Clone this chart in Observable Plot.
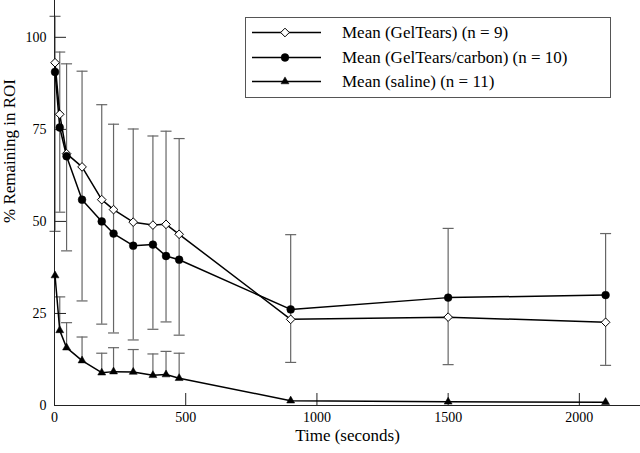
<!DOCTYPE html>
<html>
<head>
<meta charset="utf-8">
<script src="https://cdn.jsdelivr.net/npm/d3@7"></script>
<script src="https://cdn.jsdelivr.net/npm/@observablehq/plot@0.6"></script>
<style>
  body { margin: 0; background: #fff; }
  #wrap { position: relative; width: 640px; height: 453px; }
  #legend { position: absolute; left: 245px; top: 17px; }
  #wrap svg, #wrap svg text { font-family: "Liberation Serif", "DejaVu Serif", serif !important; }
</style>
</head>
<body>
<div id="wrap"></div>
<script>
// ---- data ----
const times = [2, 20, 46, 105, 180, 225, 300, 375, 425, 475, 900, 1500, 2100];
const gelTears = [93.1, 79.1, 68.4, 64.8, 55.9, 53.2, 49.8, 49.0, 49.2, 46.5, 23.4, 24.0, 22.6];
const gelCarbon = [90.6, 75.5, 67.7, 55.9, 50.0, 46.7, 43.4, 43.7, 40.6, 39.6, 26.1, 29.3, 30.0];
const saline = [35.3, 20.4, 15.7, 12.2, 8.9, 9.2, 9.1, 8.2, 8.4, 7.4, 1.3, 1.0, 0.9];
// error bar limits for the two gel series (upper / lower caps)
const gelBarHigh = [105.7, 96.0, 92.8, 90.8, 81.7, 76.4, 75.1, 73.2, 74.5, 72.5, 46.4, 48.1, 46.7];
const gelBarLow = [47.3, 52.5, 42.0, 28.4, 22.1, 19.7, 17.8, 20.7, 22.7, 19.1, 11.7, 11.1, 10.9];
// saline upper error caps
const salineBarHigh = [null, 29.5, 22.5, 18.6, 14.2, 15.7, 15.2, 14.0, 14.7, 14.2, null, null, null];
const xTicks = [0, 500, 1000, 1500, 2000];
const yTicks = [0, 25, 50, 75, 100];
const seriesNames = ["Mean (GelTears) (n = 9)", "Mean (GelTears/carbon) (n = 10)", "Mean (saline) (n = 11)"];
const xLabel = "Time (seconds)";
const yLabel = "% Remaining in ROI";

// ---- build tables ----
const rows = (vals) => times.map((t, i) => ({t, v: vals[i]}));
const gelRows = rows(gelTears);
const carbonRows = rows(gelCarbon);
const salineRows = rows(saline);
const gelBars = times.map((t, i) => ({t, lo: gelBarLow[i], hi: gelBarHigh[i]}));
const salineBars = times.map((t, i) => ({t, lo: saline[i], hi: salineBarHigh[i]})).filter(d => d.hi != null);

const cap = {draw(ctx) { ctx.moveTo(-5.5, 0); ctx.lineTo(5.5, 0); }};
const barColor = "#666";
const serif = "'Liberation Serif', 'DejaVu Serif', serif";

const chart = Plot.plot({
  width: 640,
  height: 453,
  marginLeft: 54,
  marginRight: 0,
  marginTop: 0,
  marginBottom: 48,
  style: {fontFamily: serif, fontSize: "14px", color: "#000", background: "#fff"},
  x: {domain: [0, 2233]},
  y: {domain: [0, 110]},
  marks: [
    // error bars
    Plot.ruleX(gelBars, {x: "t", y1: "lo", y2: "hi", stroke: barColor, strokeWidth: 1.2}),
    Plot.dot(gelBars, {x: "t", y: "hi", symbol: cap, r: 4, fill: "none", stroke: barColor, strokeWidth: 1.2}),
    Plot.dot(gelBars, {x: "t", y: "lo", symbol: cap, r: 4, fill: "none", stroke: barColor, strokeWidth: 1.2}),
    Plot.ruleX(salineBars, {x: "t", y1: "lo", y2: "hi", stroke: barColor, strokeWidth: 1.2}),
    Plot.dot(salineBars, {x: "t", y: "hi", symbol: cap, r: 4, fill: "none", stroke: barColor, strokeWidth: 1.2}),
    // axes lines
    Plot.ruleY([0], {stroke: "#222"}),
    Plot.ruleX([0], {stroke: "#222"}),
    // inward ticks (12px long)
    Plot.tickX(xTicks, {x: d => d, insetTop: 393, stroke: "#222", strokeWidth: 1}),
    Plot.tickY(yTicks, {y: d => d, insetRight: 574, stroke: "#222", strokeWidth: 1}),
    // tick labels
    Plot.axisX({ticks: xTicks, tickSize: 0, tickPadding: 7, tickFormat: d => String(d), label: null, fontSize: 14}),
    Plot.axisY({ticks: yTicks, tickSize: 0, tickPadding: 8, tickFormat: d => String(d), label: null, fontSize: 14}),
    // series lines
    Plot.line(gelRows, {x: "t", y: "v", stroke: "#000", strokeWidth: 1.5}),
    Plot.line(carbonRows, {x: "t", y: "v", stroke: "#000", strokeWidth: 1.5}),
    Plot.line(salineRows, {x: "t", y: "v", stroke: "#000", strokeWidth: 1.5}),
    // markers
    Plot.dot(gelRows, {x: "t", y: "v", symbol: "diamond2", r: 3.9, fill: "#fff", stroke: "#000", strokeWidth: 1}),
    Plot.dot(carbonRows, {x: "t", y: "v", symbol: "circle", r: 3.9, fill: "#000", stroke: "#000", strokeWidth: 0.5}),
    Plot.dot(salineRows, {x: "t", y: "v", symbol: "triangle2", r: 3.8, fill: "#000", stroke: "#000", strokeWidth: 0.5}),
    // axis titles
    Plot.text([xLabel], {text: d => d, frameAnchor: "bottom", dy: 35, fontSize: 17, fill: "#000"}),
    Plot.text([yLabel], {text: d => d, frameAnchor: "left", dx: -45, dy: 20, rotate: -90, fontSize: 17, fill: "#000"})
  ]
});
document.getElementById("wrap").appendChild(chart);

// ---- legend (boxed, inside plot area) ----
const ns = "http://www.w3.org/2000/svg";
const leg = document.createElementNS(ns, "svg");
leg.setAttribute("id", "legend");
leg.setAttribute("width", 366);
leg.setAttribute("height", 81);
const el = (name, attrs) => { const e = document.createElementNS(ns, name); for (const k in attrs) e.setAttribute(k, attrs[k]); leg.appendChild(e); return e; };
el("rect", {x: 0.5, y: 0.5, width: 365, height: 80, fill: "#fff", stroke: "#555", "stroke-width": 1});
const rowY = [15.5, 40.5, 64.5];
const syms = [d3.symbolDiamond2, d3.symbolCircle, d3.symbolTriangle2];
const rs = [3.9, 3.9, 3.8];
seriesNames.forEach((name, i) => {
  el("line", {x1: 7, x2: 76, y1: rowY[i], y2: rowY[i], stroke: "#000", "stroke-width": 1.5});
  el("path", {d: d3.symbol(syms[i], Math.PI * rs[i] * rs[i])(), transform: `translate(40,${rowY[i]})`,
    fill: i === 0 ? "#fff" : "#000", stroke: "#000", "stroke-width": i === 0 ? 1 : 0.5});
  const t = el("text", {x: 97, y: rowY[i], "dominant-baseline": "central", "font-size": 17, fill: "#000"});
  t.textContent = name;
});
document.getElementById("wrap").appendChild(leg);
</script>
</body>
</html>
